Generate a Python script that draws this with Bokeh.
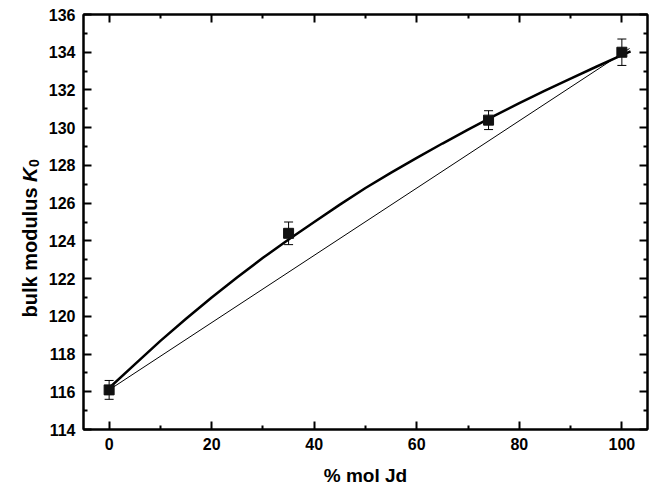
import numpy as np
from bokeh.plotting import figure
from bokeh.layouts import row
from bokeh.models import (ColumnDataSource, Whisker, TeeHead, LinearAxis, Label,
                          Range1d, FixedTicker)
from bokeh.embed import file_html
from bokeh.resources import INLINE

# ---- data ----
jd_pct = [0, 35, 74, 100]
k0 = [116.1, 124.4, 130.4, 134.0]
k0_err = [0.5, 0.6, 0.5, 0.7]

curve_x = [0, 5, 10, 15, 20, 25, 30, 35, 40, 45, 50, 55, 60, 65, 70, 75, 80, 85, 90, 95, 100, 101.7]
curve_y = [116.2, 117.45, 118.7, 119.87, 121.0, 122.07, 123.1, 124.07, 125.0, 125.92, 126.8,
           127.62, 128.4, 129.16, 129.9, 130.61, 131.3, 131.96, 132.6, 133.23, 133.85, 134.05]

line_x = [0, 101.5]
line_y = [116.1, 134.2]

x_ticks = [0, 20, 40, 60, 80, 100]
y_ticks = [114, 116, 118, 120, 122, 124, 126, 128, 130, 132, 134, 136]

x_label = "% mol Jd"
y_label_main, y_label_sym, y_label_sub = "bulk modulus", "K", "0"

FONT = "Liberation Sans"
H = 490
LW = 45

p = figure(width=650 - LW, height=H, output_backend="svg", toolbar_location=None,
           x_range=Range1d(-5, 105), y_range=Range1d(114, 136),
           min_border_left=83 - LW, min_border_right=3, min_border_top=14, min_border_bottom=61)
p.grid.visible = False
p.outline_line_color = "black"
p.outline_line_width = 2
p.background_fill_color = "white"
p.border_fill_color = "white"

def style_axis(ax, labels=True):
    ax.axis_line_width = 2
    ax.axis_line_color = "black"
    ax.major_tick_line_width = 2
    ax.minor_tick_line_width = 2
    ax.major_tick_in = 8
    ax.major_tick_out = 0
    ax.minor_tick_in = 4
    ax.minor_tick_out = 0
    ax.major_tick_line_color = "black"
    ax.minor_tick_line_color = "black"
    if labels:
        ax.major_label_text_font = FONT
        ax.major_label_text_font_style = "bold"
        ax.major_label_text_font_size = "16px"
        ax.major_label_text_color = "black"
        ax.major_label_standoff = 8
    else:
        ax.major_label_text_font_size = "0px"
        ax.major_label_standoff = 0
        ax.major_label_text_color = None

def xticker():
    return FixedTicker(ticks=x_ticks, minor_ticks=[v + 10 for v in x_ticks[:-1]] + [-10])

def yticker():
    return FixedTicker(ticks=y_ticks, minor_ticks=[v + 1 for v in y_ticks[:-1]])

p.xaxis.ticker = xticker()
p.yaxis.ticker = yticker()
style_axis(p.xaxis[0])
style_axis(p.yaxis[0])
p.xaxis.axis_label = x_label
p.xaxis.axis_label_text_font = FONT
p.xaxis.axis_label_text_font_style = "bold"
p.xaxis.axis_label_text_font_size = "19px"
p.xaxis.axis_label_text_color = "black"
p.xaxis.axis_label_standoff = 12

top = LinearAxis(ticker=xticker())
style_axis(top, labels=False)
p.add_layout(top, "above")
right = LinearAxis(ticker=yticker())
style_axis(right, labels=False)
p.add_layout(right, "right")

# lines
p.line(line_x, line_y, line_color="black", line_width=1)
p.line(curve_x, curve_y, line_color="black", line_width=2.5)

# error bars
src = ColumnDataSource(dict(x=jd_pct, y=k0,
                            lo=[v - e for v, e in zip(k0, k0_err)],
                            hi=[v + e for v, e in zip(k0, k0_err)]))
w = Whisker(source=src, base="x", upper="hi", lower="lo", line_color="black", line_width=1,
            upper_head=TeeHead(size=9, line_color="black", line_width=1),
            lower_head=TeeHead(size=9, line_color="black", line_width=1))
p.add_layout(w)
p.scatter("x", "y", source=src, marker="square", size=10, color="#111111")

# narrow side figure carrying the y-axis title (mixed styles: italic K, subscript 0)
lf = figure(width=LW, height=H, output_backend="svg", toolbar_location=None,
            x_axis_type=None, y_axis_type=None, x_range=Range1d(0, 1), y_range=Range1d(0, 1),
            min_border=0)
lf.grid.visible = False
lf.outline_line_color = None
lf.background_fill_color = "white"
lf.border_fill_color = "white"

lx, ly = 29, 112
common = dict(x=lx, y=ly, x_units="screen", y_units="screen", angle=np.pi / 2,
              text_align="left", text_baseline="alphabetic", text_font=FONT,
              text_color="black")
lf.add_layout(Label(text=y_label_main, text_font_style="bold", text_font_size="20px", **common))
lf.add_layout(Label(text=y_label_sym, y_offset=135.6, text_font_style="bold italic",
                    text_font_size="20px", **common))
lf.add_layout(Label(text=y_label_sub, y_offset=150.5, x_offset=4, text_font_style="bold",
                    text_font_size="14px", **common))

layout = row(lf, p, spacing=0)
open("out.html", "w").write(file_html(layout, INLINE))
